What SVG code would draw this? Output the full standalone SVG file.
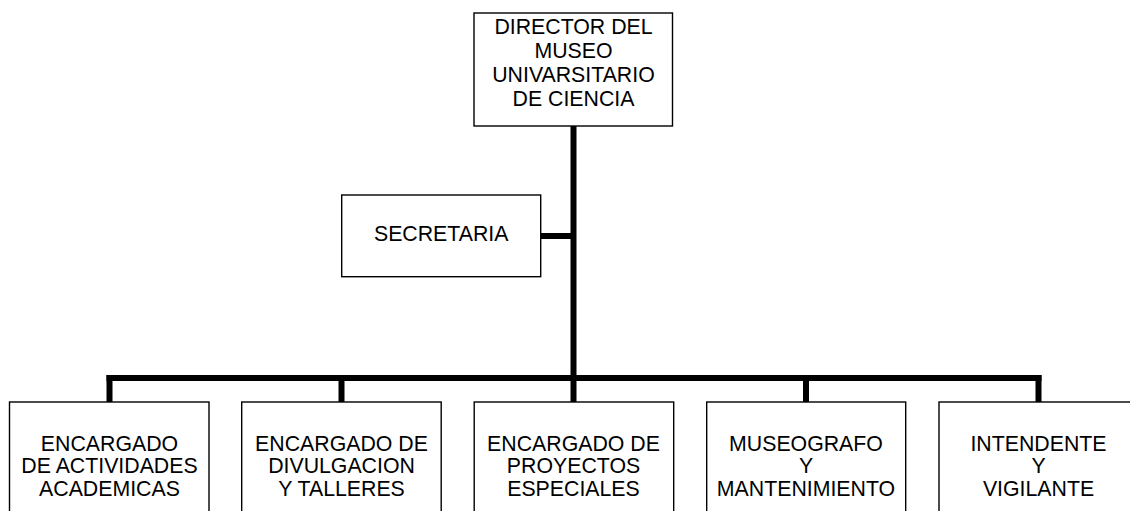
<svg xmlns="http://www.w3.org/2000/svg" width="1130" height="511" viewBox="0 0 1130 511">
<style>
.box{fill:#fff;stroke:#000;stroke-width:1.4}
.t{font-family:"Liberation Sans",Arial,sans-serif;font-size:21.3px;fill:#000;text-anchor:middle}
.c{fill:none;stroke:#000;stroke-width:6;stroke-linecap:square}
</style>
<rect width="1130" height="511" fill="#fff"/>
<g id="connectors">
<path class="c" d="M573.5,128 V378"/>
<path class="c" d="M543,236 H573"/>
<path class="c" d="M109.5,378 H1038.5"/>
<path class="c" d="M109.5,378 V400 M341.5,378 V400 M573.5,378 V400 M806,378 V400 M1038.5,378 V400"/>
</g>
<g id="director">
<rect class="box" x="474" y="13" width="198.5" height="113"/>
<text class="t" x="573.5" y="33.5">DIRECTOR DEL</text>
<text class="t" x="573.5" y="57.7">MUSEO</text>
<text class="t" x="573.5" y="82">UNIVARSITARIO</text>
<text class="t" x="573.5" y="106.3">DE CIENCIA</text>
</g>
<g id="secretaria">
<rect class="box" x="341.7" y="195" width="199" height="81.7"/>
<text class="t" x="441.2" y="241">SECRETARIA</text>
</g>
<g id="academicas">
<rect class="box" x="9.5" y="402" width="199.5" height="120"/>
<text class="t" x="109.5" y="450.5">ENCARGADO</text>
<text class="t" x="109.5" y="473.2">DE ACTIVIDADES</text>
<text class="t" x="109.5" y="496">ACADEMICAS</text>
</g>
<g id="divulgacion">
<rect class="box" x="241.7" y="402" width="199.5" height="120"/>
<text class="t" x="341.5" y="450.5">ENCARGADO DE</text>
<text class="t" x="341.5" y="473.2">DIVULGACION</text>
<text class="t" x="341.5" y="496">Y TALLERES</text>
</g>
<g id="proyectos">
<rect class="box" x="474.2" y="402" width="199.5" height="120"/>
<text class="t" x="573.5" y="450.5">ENCARGADO DE</text>
<text class="t" x="573.5" y="473.2">PROYECTOS</text>
<text class="t" x="573.5" y="496">ESPECIALES</text>
</g>
<g id="museografo">
<rect class="box" x="706.7" y="402" width="199" height="120"/>
<text class="t" x="806" y="450.5">MUSEOGRAFO</text>
<text class="t" x="806" y="473.2">Y</text>
<text class="t" x="806" y="496">MANTENIMIENTO</text>
</g>
<g id="intendente">
<rect class="box" x="939" y="402" width="200" height="120"/>
<text class="t" x="1038.5" y="450.5">INTENDENTE</text>
<text class="t" x="1038.5" y="473.2">Y</text>
<text class="t" x="1038.5" y="496">VIGILANTE</text>
</g>
</svg>
